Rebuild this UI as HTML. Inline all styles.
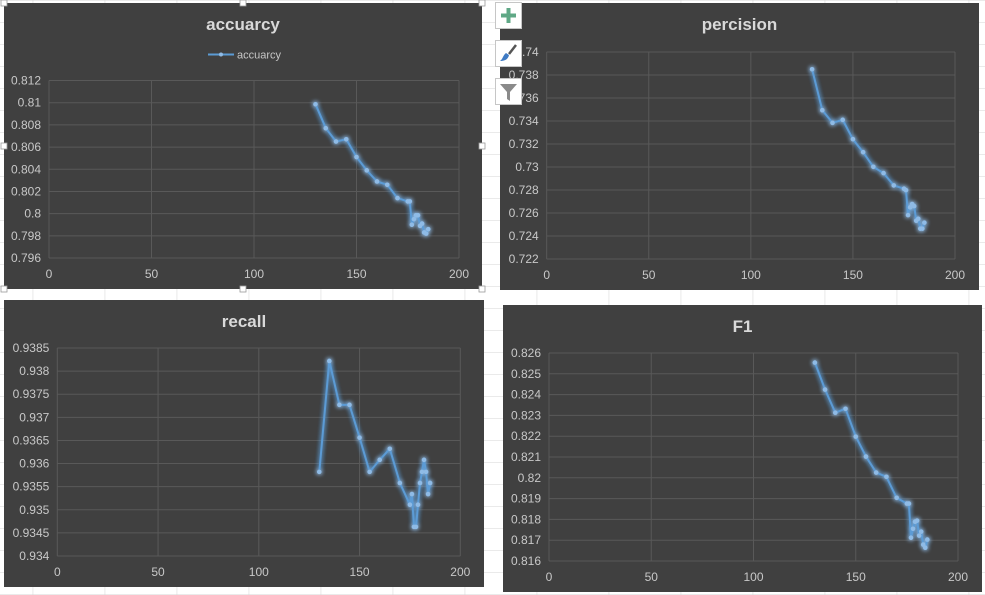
<!DOCTYPE html>
<html><head><meta charset="utf-8"><style>
html,body{margin:0;padding:0;background:#fff;}
svg{display:block;font-family:"Liberation Sans",sans-serif;}
</style></head><body>
<svg id="root" width="985" height="595" viewBox="0 0 985 595">
<defs>
<pattern id="cells" x="32.7" y="0.3" width="72" height="22" patternUnits="userSpaceOnUse">
<path d="M0 0V22M0 0H72" stroke="#d4d4d4" stroke-width="1" fill="none"/>
</pattern>
<filter id="glow" x="-20%" y="-20%" width="140%" height="140%">
<feGaussianBlur in="SourceGraphic" stdDeviation="2.5" result="b"/>
<feMerge><feMergeNode in="b"/><feMergeNode in="b"/><feMergeNode in="SourceGraphic"/></feMerge>
</filter>
</defs>
<rect width="985" height="595" fill="url(#cells)"/>
<g id="charts"></g>
<g>
<g>
<rect x="495.5" y="2.5" width="26" height="26" fill="#fff" stroke="#c6c6c6"/>
<path d="M508.5 8v15M501 15.5h15" stroke="#5fa886" stroke-width="4"/>
</g>
<g>
<rect x="495.5" y="40.5" width="26" height="26" fill="#fff" stroke="#c6c6c6"/>
<path d="M516 45l-7 9" stroke="#555" stroke-width="2.5"/>
<path d="M500 61c4 0 8-1 9-6l-3-2c-3 2-3 6-6 8z" fill="#3f7bc4"/>
</g>
<g>
<rect x="495.5" y="78.5" width="26" height="26" fill="#fff" stroke="#c6c6c6"/>
<path d="M500 84h17l-7 8v9l-3-2v-7z" fill="#8a8a8a"/>
</g>
</g>
</svg>
<script>
const xValues = [130,135,140,145,150,155,160,165,170,175,176,177,178,179,180,181,182,183,184,185];
const accuracyValues = [0.80986,0.8077,0.8065,0.8067,0.8051,0.8039,0.8029,0.8026,0.8014,0.8011,0.8011,0.7990,0.7995,0.79985,0.79985,0.7989,0.7991,0.7983,0.7982,0.7986];
const precisionValues = [0.7385,0.73494,0.73384,0.7341,0.73242,0.73129,0.73002,0.72947,0.7284,0.72811,0.72799,0.72582,0.72649,0.72678,0.7266,0.72533,0.7255,0.72464,0.72464,0.72516];
const recallValues = [0.93582,0.93822,0.93727,0.93727,0.93656,0.93582,0.93608,0.93632,0.93558,0.93511,0.93534,0.93463,0.93463,0.93511,0.93558,0.93582,0.93608,0.93582,0.93534,0.93558];
const f1Values = [0.82554,0.82424,0.82313,0.82332,0.82198,0.82102,0.82025,0.82005,0.81904,0.81876,0.81876,0.81712,0.81755,0.81789,0.81794,0.81722,0.81741,0.81679,0.81664,0.81703];
const xTickLabels = ["0","50","100","150","200"];
const accuracyTicks = ["0.796","0.798","0.8","0.802","0.804","0.806","0.808","0.81","0.812"];
const precisionTicks = ["0.722","0.724","0.726","0.728","0.73","0.732","0.734","0.736","0.738","0.74"];
const recallTicks = ["0.934","0.9345","0.935","0.9355","0.936","0.9365","0.937","0.9375","0.938","0.9385"];
const f1Ticks = ["0.816","0.817","0.818","0.819","0.82","0.821","0.822","0.823","0.824","0.825","0.826"];

const NS = "http://www.w3.org/2000/svg";
const root = document.getElementById("charts");
function mk(tag, attrs, parent){
  const e = document.createElementNS(NS, tag);
  for (const k in attrs) e.setAttribute(k, attrs[k]);
  parent.appendChild(e);
  return e;
}
function drawChart(cfg, ys, yTicks){
  const g = mk("g", {}, root);
  
  
  const bg = mk("rect", {x:cfg.bx, y:cfg.by, width:cfg.bw, height:cfg.bh, fill:"#404040"}, g);
  
  
  const t = mk("text", {x:(cfg.bx + cfg.bw/2), y:cfg.by + 27, "text-anchor":"middle", "font-size":"17", "font-weight":"bold", fill:"#d9d9d9"}, g);
  t.textContent = cfg.title;
  
  
  const yMin = parseFloat(yTicks[0]), yMax = parseFloat(yTicks[yTicks.length-1]);
  const xMin = parseFloat(xTickLabels[0]), xMax = parseFloat(xTickLabels[xTickLabels.length-1]);
  const sx = v => cfg.px0 + (v - xMin) / (xMax - xMin) * (cfg.px1 - cfg.px0);
  const sy = v => cfg.py1 - (v - yMin) / (yMax - yMin) * (cfg.py1 - cfg.py0);
  yTicks.forEach(lbl => {
    const v = parseFloat(lbl), y = sy(v);
    const l = mk("line", {x1:cfg.px0, x2:cfg.px1, y1:y, y2:y, stroke:"#595959", "stroke-width":1}, g);
    
    
    const tx = mk("text", {x:cfg.px0 - 8, y:y + 4, "text-anchor":"end", "font-size":"12", fill:"#c8c8c8"}, g);
    tx.textContent = lbl;
    
    
  });
  xTickLabels.forEach(lbl => {
    const x = sx(parseFloat(lbl));
    const l = mk("line", {x1:x, x2:x, y1:cfg.py0, y2:cfg.py1, stroke:"#595959", "stroke-width":1}, g);
    
    
    const tx = mk("text", {x:x, y:cfg.py1 + 20, "text-anchor":"middle", "font-size":"12", fill:"#c8c8c8"}, g);
    tx.textContent = lbl;
    
    
  });
  const s = mk("g", {filter:"url(#glow)"}, g);
  
  
  const pts = xValues.map((xv, i) => sx(xv).toFixed(1) + "," + sy(ys[i]).toFixed(1)).join(" ");
  const pl = mk("polyline", {points:pts, fill:"none", stroke:"#5b9bd5", "stroke-width":2, "stroke-linejoin":"round"}, s);
  
  
  xValues.forEach((xv, i) => {
    const c = mk("circle", {cx:sx(xv), cy:sy(ys[i]), r:2.3, fill:"#8fbbe6"}, s);
    
    
  });
  if (cfg.legend){
    const lg = mk("g", {}, g);
    
    
    mk("line", {x1:208, x2:234, y1:54.5, y2:54.5, stroke:"#5b9bd5", "stroke-width":2}, lg);
    mk("circle", {cx:221, cy:54.5, r:2, fill:"#8fbbe6"}, lg);
    const lt = mk("text", {x:237, y:58.5, "font-size":"11", fill:"#c8c8c8"}, lg);
    lt.textContent = cfg.title;
  }
  return g;
}
drawChart({name:"accuracy", title:"accuarcy", bx:4, by:3, bw:478, bh:286, px0:49, px1:459, py0:80.5, py1:258, legend:true}, accuracyValues, accuracyTicks);
drawChart({name:"precision", title:"percision", bx:500, by:3, bw:479, bh:287, px0:546.7, px1:955, py0:52, py1:259}, precisionValues, precisionTicks);
drawChart({name:"recall", title:"recall", bx:4, by:300, bw:480, bh:287, px0:57.3, px1:460.3, py0:348, py1:556}, recallValues, recallTicks);
drawChart({name:"f1", title:"F1", bx:503, by:305, bw:479, bh:287, px0:549, px1:958, py0:353, py1:561}, f1Values, f1Ticks);
// selection handles on first chart
[[4,3],[243,3],[482,3],[4,146],[482,146],[4,289],[243,289],[482,289]].forEach(p => {
  const h = mk("rect", {x:p[0]-3, y:p[1]-3, width:6, height:6, fill:"#fff", stroke:"#999", "stroke-width":0.8}, root);
  
  
});
</script>
</body></html>
